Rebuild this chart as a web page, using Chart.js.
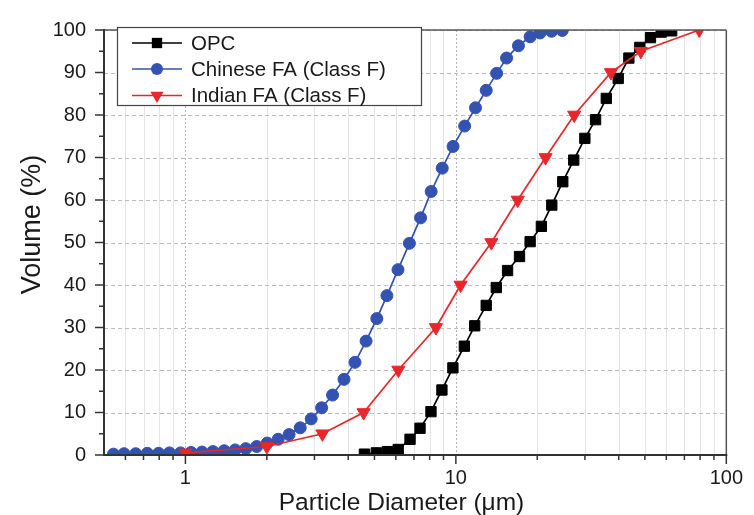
<!DOCTYPE html>
<html>
<head>
<meta charset="utf-8">
<script src="https://cdn.jsdelivr.net/npm/chart.js@4.4.0/dist/chart.umd.min.js"></script>
<style>
  body { margin: 0; background: #fff; }
  #wrap { width: 754px; height: 515px; }
</style>
</head>
<body>
<div id="wrap"><canvas id="psdChart" width="754" height="515"></canvas></div>
<script>
// cumulative particle size distributions (volume %, diameter in µm)
const opcSize = [4.59, 5.08, 5.58, 6.12, 6.77, 7.37, 8.09, 8.88, 9.75, 10.75, 11.74, 12.95, 14.11, 15.53, 17.19, 18.82,
  20.71, 22.63, 24.85, 27.28, 29.99, 32.85, 36.0, 39.84, 43.62, 47.88, 52.43, 57.43, 62.79];
const opcVolume = [0.2, 0.5, 0.8, 1.3, 3.7, 6.3, 10.2, 15.3, 20.5, 25.6, 30.4, 35.2, 39.4, 43.4, 46.7, 50.2,
  53.8, 58.8, 64.3, 69.4, 74.5, 78.9, 83.9, 88.6, 93.4, 95.9, 98.2, 99.5, 99.8];

const cfaSize = [0.542, 0.593, 0.655, 0.723, 0.796, 0.873, 0.959, 1.049, 1.152, 1.264, 1.391, 1.527, 1.672, 1.835,
  2.007, 2.203, 2.417, 2.658, 2.918, 3.189, 3.5, 3.858, 4.236, 4.656, 5.102, 5.56, 6.11, 6.733, 7.406, 8.103,
  8.904, 9.765, 10.78, 11.82, 12.95, 14.15, 15.4, 17.04, 18.82, 20.48, 22.59, 24.74];
const cfaVolume = [0.2, 0.3, 0.3, 0.4, 0.4, 0.5, 0.5, 0.6, 0.7, 0.8, 1.0, 1.2, 1.5, 2.0,
  2.8, 3.7, 4.8, 6.4, 8.5, 11.1, 14.1, 17.8, 21.8, 26.8, 32.1, 37.5, 43.6, 49.8, 55.8, 62.0,
  67.5, 72.6, 77.4, 81.7, 85.8, 89.8, 93.4, 96.3, 98.4, 99.3, 99.7, 99.9];

const ifaSize = [1.0, 2.0, 3.21, 4.56, 6.13, 8.44, 10.41, 13.53, 16.93, 21.46, 27.39, 37.46, 48.3, 79.4];
const ifaVolume = [0.5, 2, 5, 10, 20, 30, 40, 50, 60, 70, 80, 90, 95, 100];

const seriesNames = ["OPC", "Chinese FA (Class F)", "Indian FA (Class F)"];

const xMajor = [1, 10, 100];
const xMinor = [0.6, 0.7, 0.8, 0.9, 2, 3, 4, 5, 6, 7, 8, 9, 20, 30, 40, 50, 60, 70, 80, 90];
const yMajor = [0, 10, 20, 30, 40, 50, 60, 70, 80, 90, 100];
const yMinor = [5, 15, 25, 35, 45, 55, 65, 75, 85, 95];

const FONT = '"Liberation Sans", Arial, Helvetica, sans-serif';
const TEXT = "#1a1a1a";

function toPoints(xs, ys) {
  return xs.map((x, i) => ({ x: x, y: ys[i] }));
}

function line(ctx, x1, y1, x2, y2) {
  ctx.beginPath();
  ctx.moveTo(x1, y1);
  ctx.lineTo(x2, y2);
  ctx.stroke();
}

function drawMarker(ctx, ds, cx, cy) {
  const r = ds.pointRadius;
  ctx.fillStyle = ds.backgroundColor;
  ctx.beginPath();
  if (ds.pointStyle === "rect") {
    const s = r * Math.SQRT1_2;
    ctx.rect(cx - s, cy - s, 2 * s, 2 * s);
  } else if (ds.pointStyle === "circle") {
    ctx.arc(cx, cy, r, 0, Math.PI * 2);
  } else {
    // downward triangle
    ctx.moveTo(cx, cy + r);
    ctx.lineTo(cx - r * 0.866, cy - r / 2);
    ctx.lineTo(cx + r * 0.866, cy - r / 2);
    ctx.closePath();
  }
  ctx.fill();
}

const framePlugin = {
  id: "frame",
  beforeDatasetsDraw(chart) {
    const { ctx, chartArea: a, scales: { x, y } } = chart;
    ctx.save();
    ctx.beginPath();
    ctx.rect(a.left, a.top, a.width, a.height);
    ctx.clip();

    // light solid lines inside each decade
    ctx.lineWidth = 1;
    ctx.strokeStyle = "#e4e4e4";
    xMinor.forEach((v) => {
      const px = Math.round(x.getPixelForValue(v)) + 0.5;
      line(ctx, px, a.top, px, a.bottom);
    });

    // dotted lines on the decades
    ctx.setLineDash([2, 2]);
    ctx.strokeStyle = "#b5b5b5";
    xMajor.forEach((v) => {
      const px = Math.round(x.getPixelForValue(v)) + 0.5;
      line(ctx, px, a.top, px, a.bottom);
    });

    // dashed horizontal lines every 10 %
    ctx.setLineDash([4, 3]);
    ctx.strokeStyle = "#bcbcbc";
    yMajor.forEach((v) => {
      const py = Math.round(y.getPixelForValue(v)) + 0.5;
      line(ctx, a.left, py, a.right, py);
    });
    ctx.restore();
  },
  afterDatasetsDraw(chart) {
    const { ctx, chartArea: a, scales: { x, y } } = chart;
    ctx.save();

    // box
    ctx.strokeStyle = "#555";
    ctx.lineWidth = 1.5;
    line(ctx, a.left, a.top, a.right, a.top);
    line(ctx, a.right, a.top, a.right, a.bottom);
    ctx.strokeStyle = "#333";
    ctx.lineWidth = 2;
    line(ctx, a.left, a.top - 1, a.left, a.bottom + 1);
    line(ctx, a.left - 1, a.bottom, a.right + 1, a.bottom);

    // outward tick marks
    ctx.lineWidth = 1.5;
    yMajor.forEach((v) => {
      const py = y.getPixelForValue(v);
      line(ctx, a.left - 9, py, a.left, py);
    });
    yMinor.forEach((v) => {
      const py = y.getPixelForValue(v);
      line(ctx, a.left - 5, py, a.left, py);
    });
    xMajor.forEach((v) => {
      const px = x.getPixelForValue(v);
      line(ctx, px, a.bottom, px, a.bottom + 9);
    });
    xMinor.forEach((v) => {
      const px = x.getPixelForValue(v);
      line(ctx, px, a.bottom, px, a.bottom + 5);
    });

    // axis titles
    ctx.fillStyle = TEXT;
    ctx.textAlign = "center";
    ctx.textBaseline = "middle";
    ctx.font = "24.5px " + FONT;
    ctx.fillText("Particle Diameter (\u03bcm)", 401.5, 503);
    ctx.save();
    ctx.translate(33, 224.5);
    ctx.rotate(-Math.PI / 2);
    ctx.font = "27px " + FONT;
    ctx.fillText("Volume (%)", 0, 0);
    ctx.restore();

    // legend box
    const lx = 117.5, ly = 27.5, lw = 304, lh = 78;
    ctx.fillStyle = "#fff";
    ctx.fillRect(lx, ly, lw, lh);
    ctx.strokeStyle = "#444";
    ctx.lineWidth = 1.2;
    ctx.strokeRect(lx, ly, lw, lh);

    const rows = [43, 69, 95.5];
    ctx.font = "20.5px " + FONT;
    ctx.textAlign = "left";
    chart.data.datasets.forEach((ds, i) => {
      const ry = rows[i];
      ctx.strokeStyle = ds.borderColor;
      ctx.lineWidth = ds.borderWidth;
      line(ctx, 132, ry, 182, ry);
      drawMarker(ctx, ds, 157, ry);
      ctx.fillStyle = TEXT;
      ctx.fillText(ds.label, 191, ry + 1);
    });

    ctx.restore();
  },
};

const datasets = [
  {
    label: seriesNames[0],
    data: toPoints(opcSize, opcVolume),
    borderColor: "#000000",
    backgroundColor: "#000000",
    pointStyle: "rect",
    pointRadius: 7.3,
    order: 2,
  },
  {
    label: seriesNames[1],
    data: toPoints(cfaSize, cfaVolume),
    borderColor: "#3352b2",
    backgroundColor: "#3352b2",
    pointStyle: "circle",
    pointRadius: 6,
    order: 1,
  },
  {
    label: seriesNames[2],
    data: toPoints(ifaSize, ifaVolume),
    borderColor: "#e8262b",
    backgroundColor: "#e8262b",
    pointStyle: "triangle",
    pointRadius: 7.6,
    pointRotation: 180,
    order: 0,
  },
].map((ds) => ({
  ...ds,
  showLine: true,
  borderWidth: 1.7,
  pointBorderWidth: 1,
  pointHoverRadius: ds.pointRadius,
  tension: 0,
}));

new Chart(document.getElementById("psdChart"), {
  type: "scatter",
  data: { datasets: datasets },
  options: {
    responsive: false,
    animation: false,
    layout: { padding: { top: 17, right: 26, left: 0, bottom: 0 } },
    plugins: {
      legend: { display: false },
      tooltip: { enabled: false },
    },
    scales: {
      x: {
        type: "logarithmic",
        min: 0.5,
        max: 100,
        grid: { display: false, drawTicks: false },
        border: { display: false },
        afterBuildTicks: (scale) => {
          scale.ticks = xMajor.map((v) => ({ value: v }));
        },
        afterFit: (scale) => {
          scale.height = 60;
        },
        ticks: {
          autoSkip: false,
          maxRotation: 0,
          padding: 11,
          color: TEXT,
          font: { family: FONT, size: 20 },
          callback: (v) => String(v),
        },
      },
      y: {
        min: 0,
        max: 100,
        grid: { display: false, drawTicks: false },
        border: { display: false },
        afterFit: (scale) => {
          scale.width = 104;
        },
        ticks: {
          stepSize: 10,
          padding: 18,
          color: TEXT,
          font: { family: FONT, size: 20 },
        },
      },
    },
  },
  plugins: [framePlugin],
});
</script>
</body>
</html>
